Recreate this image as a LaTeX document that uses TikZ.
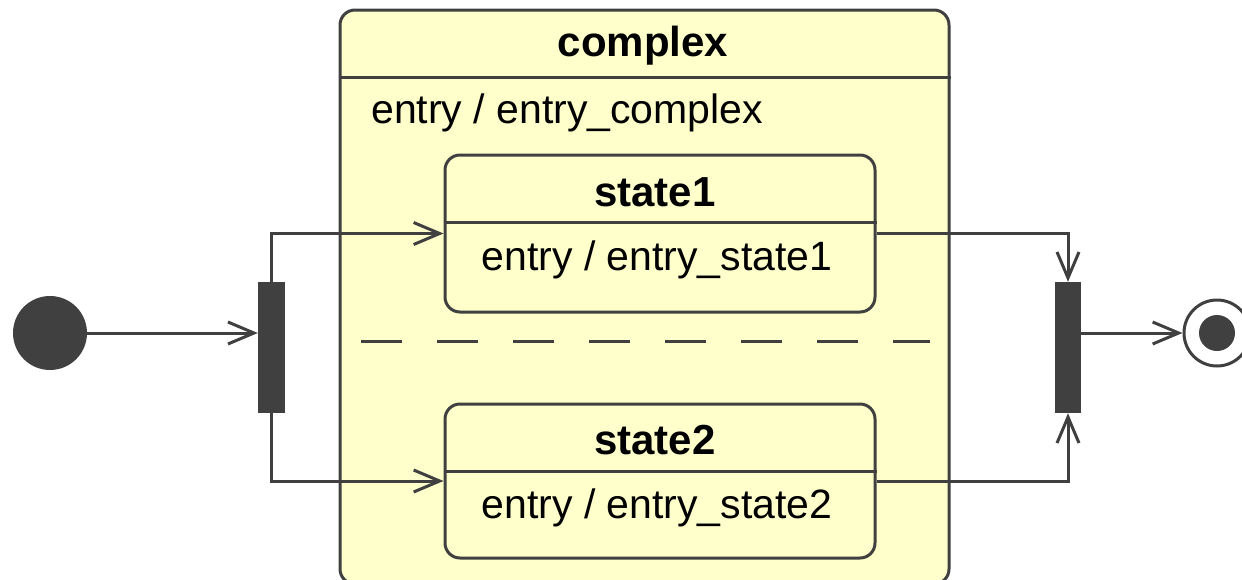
\documentclass[tikz,border=0pt]{standalone}
\usepackage{fontspec}
\setmainfont{Liberation Sans}
\usetikzlibrary{arrows.meta}
\definecolor{umlline}{HTML}{404040}
\definecolor{umlfill}{HTML}{FFFFCC}
\begin{document}
\begin{tikzpicture}[x=1pt,y=-1pt,
  statebox/.style={draw=umlline, fill=umlfill, rounded corners=15pt, line width=3pt, inner sep=0pt},
  bar/.style={fill=umlline, draw=none, inner sep=0pt},
  flow/.style={draw=umlline, line width=3pt, -{Straight Barb[length=26pt,width=22pt]}},
  rule/.style={draw=umlline, line width=3pt},
  title/.style={font=\fontsize{42}{48}\selectfont\bfseries, inner sep=0pt},
  body/.style={font=\fontsize{41}{48}\selectfont, inner sep=0pt}]
\useasboundingbox (0,0) rectangle (1242,579);

% composite state with two orthogonal regions
\node[statebox, minimum width=609pt, minimum height=574pt] (complex) at (644.5,297) {};
\draw[rule] (complex.west |- 0,77) -- (complex.east |- 0,77);
\node[title] (complexname) at (643,46) {complex};
\node[body, anchor=west] (complexentry) at (371,113) {entry / entry\_complex};
\draw[rule, dash pattern=on 41pt off 35pt] (361,341) -- (930,341);

% region states
\node[statebox, minimum width=430pt, minimum height=157pt] (state1) at (660,233.5) {};
\draw[rule] (state1.west |- 0,222) -- (state1.east |- 0,222);
\node[title] (state1name) at (655,192) {state1};
\node[body] (state1entry) at (657,260) {entry / entry\_state1};

\node[statebox, minimum width=430pt, minimum height=154pt] (state2) at (660,481) {};
\draw[rule] (state2.west |- 0,471) -- (state2.east |- 0,471);
\node[title] (state2name) at (655,440) {state2};
\node[body] (state2entry) at (657,508) {entry / entry\_state2};

% pseudo states
\node[circle, fill=umlline, minimum size=74pt, inner sep=0pt] (init) at (50,333) {};
\node[bar, minimum width=27pt, minimum height=131pt] (fork) at (271.5,347.5) {};
\node[bar, minimum width=26pt, minimum height=131pt] (join) at (1068,347.5) {};
\node[circle, draw=umlline, line width=3pt, fill=white, minimum size=66pt, inner sep=0pt] (final) at (1217,333) {};
\fill[umlline] (final.center) circle (18pt);

% transitions
\draw[flow] (init.east |- 0,333) -- (fork.west |- 0,333);
\draw[flow] (fork.north) |- (state1.west);
\draw[flow] (fork.south) |- (state2.west);
\draw[flow] (state1.east) -| (join.north);
\draw[flow] (state2.east) -| (join.south);
\draw[flow] (join.east |- final.west) -- (final.west);
\end{tikzpicture}
\end{document}
